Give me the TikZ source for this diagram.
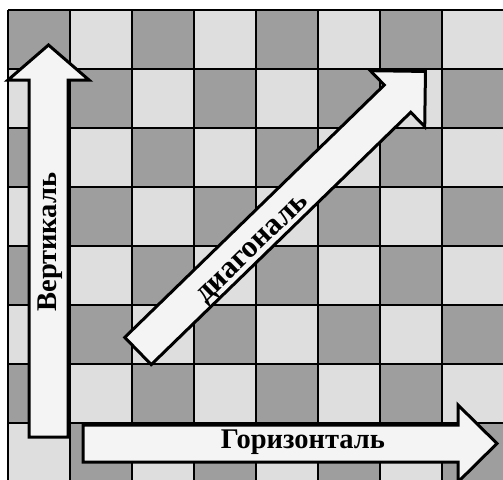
\documentclass[tikz,border=0pt]{standalone}
\usepackage{fontspec}
\setmainfont{Liberation Serif}
\definecolor{darksq}{RGB}{158,158,158}
\definecolor{lightsq}{RGB}{222,222,222}
\definecolor{arrowfill}{RGB}{244,244,244}
\tikzset{
  gridline/.style={black, line width=1.6pt},
  bigarrow/.style={draw=black, fill=arrowfill, line width=3pt, line join=miter},
  arrowtext/.style={font=\fontsize{28.5}{28.5}\selectfont\bfseries, inner sep=0pt}
}
\begin{document}
\begin{tikzpicture}[x=1pt,y=-1pt]
\useasboundingbox (0,0) rectangle (503,479);
\fill[white] (0,0) rectangle (503,479);
\begin{scope}
\clip (0,0) rectangle (503,479);
\foreach \i in {0,...,7}{
  \foreach \j in {0,...,7}{
    \pgfmathtruncatemacro\s{mod(\i+\j,2)}
    \ifnum\s=0 \def\sqc{darksq}\else\def\sqc{lightsq}\fi
    \fill[\sqc] (8+62*\i,10+59*\j) rectangle ++(62,59);
  }
}
\foreach \i in {0,...,8}{
  \draw[gridline] (8+62*\i,10) -- (8+62*\i,482);
  \draw[gridline] (8,10+59*\i) -- (504,10+59*\i);
}
% vertical arrow
\draw[bigarrow] (29,437) -- (29,80) -- (8,80) -- (48.5,45) -- (89,80) -- (68,80) -- (68,437) -- cycle;
% horizontal arrow
\draw[bigarrow] (83,425) -- (458,425) -- (458,405) -- (497,443.5) -- (458,482) -- (458,462) -- (83,462) -- cycle;
% diagonal arrow
\begin{scope}[shift={(138,351)}, rotate=44.2]
\draw[bigarrow] (0,-19) -- (362,-19) -- (362,-39) -- (401,0) -- (362,39) -- (362,19) -- (0,19) -- cycle;
\end{scope}
\end{scope}
\node[arrowtext, anchor=base] (h) at (303,448) {Горизонталь};
\node[arrowtext, anchor=base, rotate=90] (v) at (56,242) {Вертикаль};
\node[arrowtext, font=\fontsize{31}{31}\selectfont\bfseries, rotate=44.2] (d) at (254,250) {диагональ};
\end{tikzpicture}
\end{document}
